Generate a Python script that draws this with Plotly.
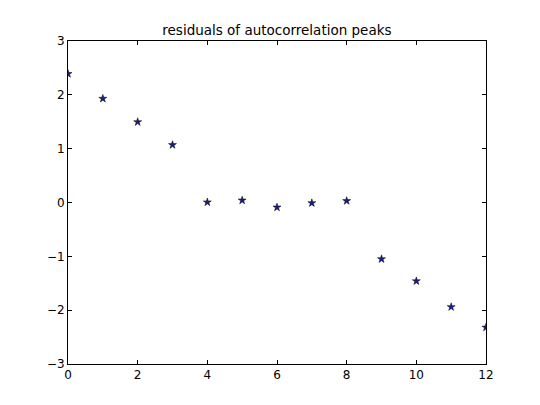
import plotly.graph_objs as go

lags = [0, 1, 2, 3, 4, 5, 6, 7, 8, 9, 10, 11, 12]
residuals = [2.39, 1.93, 1.495, 1.07, 0.005, 0.04, -0.09, -0.01, 0.03, -1.05, -1.46, -1.94, -2.32]

fig = go.Figure()

fig.add_trace(go.Scatter(x=lags, y=residuals, mode='markers', cliponaxis=True,
                         marker=dict(symbol='star', size=6, color='#1c1c8c',
                                     line=dict(color='black', width=0.5))))

axis_style = dict(showgrid=False, zeroline=False, showline=True, linecolor='black',
                  linewidth=1, mirror='ticks', ticks='inside', ticklen=4,
                  tickcolor='black', tickfont=dict(family='DejaVu Sans', size=12, color='black'))

fig.update_xaxes(range=[0, 12], tickvals=[0, 2, 4, 6, 8, 10, 12], **axis_style)
fig.update_yaxes(range=[-3, 3], tickvals=[-3, -2, -1, 0, 1, 2, 3], **axis_style)

fig.update_layout(width=540, height=405, showlegend=False,
                  margin=dict(t=33, l=60, r=62, b=49),
                  paper_bgcolor='white', plot_bgcolor='white',
                  title=dict(text='residuals of autocorrelation peaks', x=0.498, xanchor='center',
                             y=0.946, yanchor='middle',
                             font=dict(family='DejaVu Sans', size=13.5, color='black')))

fig.write_html("out.html")
